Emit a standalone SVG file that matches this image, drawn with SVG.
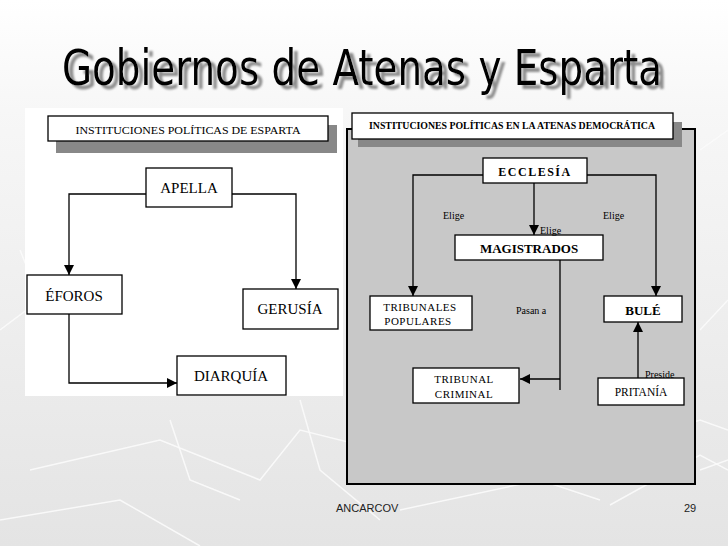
<svg xmlns="http://www.w3.org/2000/svg" width="728" height="546" viewBox="0 0 728 546">
<defs>
<linearGradient id="bg" x1="0" y1="0" x2="0" y2="1">
<stop offset="0" stop-color="#ffffff"/>
<stop offset="0.2" stop-color="#f7f7f7"/>
<stop offset="1" stop-color="#e4e4e4"/>
</linearGradient>
<filter id="tshadow" x="-5%" y="-30%" width="115%" height="170%">
<feOffset in="SourceAlpha" dx="5" dy="4" result="off"/>
<feGaussianBlur in="off" stdDeviation="0.8" result="blur"/>
<feFlood flood-color="#8c8c8c" result="col"/>
<feComposite in="col" in2="blur" operator="in" result="sh"/>
<feMerge><feMergeNode in="sh"/><feMergeNode in="SourceGraphic"/></feMerge>
</filter>
<marker id="ah" viewBox="0 0 10 10" refX="10" refY="5" markerWidth="10" markerHeight="10" markerUnits="userSpaceOnUse" orient="auto">
<path d="M0,0 L10,5 L0,10 Z" fill="#000"/>
</marker>
<style>
.box{fill:#fff;stroke:#000;stroke-width:1.3}
.shadow{fill:#888}
.ln{fill:none;stroke:#000;stroke-width:1.3}
.t{font-family:"Liberation Serif","DejaVu Serif",serif;fill:#000;text-anchor:middle}
.lab{font-family:"Liberation Serif","DejaVu Serif",serif;fill:#000;font-size:10px}
.bgl{fill:none;stroke:#fbfbfb;stroke-width:1.5;opacity:0.9}
</style>
</defs>
<rect x="0" y="0" width="728" height="546" fill="url(#bg)"/>
<g id="background-lines">
<polyline class="bgl" points="0,330 40,300 20,250"/>
<polyline class="bgl" points="30,470 160,440 260,480 300,430 420,460"/>
<polyline class="bgl" points="0,520 120,500 200,546"/>
<polyline class="bgl" points="170,420 190,480 240,500"/>
<polyline class="bgl" points="300,400 320,470 380,520"/>
<polyline class="bgl" points="640,440 700,420 728,430"/>
<polyline class="bgl" points="700,470 728,460"/>
<polyline class="bgl" points="610,505 700,455 728,470"/>
<polyline class="bgl" points="400,510 540,480 600,500"/>
<polyline class="bgl" points="700,150 728,130"/>
<polyline class="bgl" points="700,330 728,300"/>
</g>
<g id="title" filter="url(#tshadow)">
<text transform="translate(62,85) scale(0.8,1)" x="0" y="0" font-family="'DejaVu Sans','Liberation Sans',sans-serif" font-size="49" fill="#000" textLength="750" lengthAdjust="spacingAndGlyphs">Gobiernos de Atenas y Esparta</text>
</g>
<rect id="esparta-panel" x="25" y="108" width="318" height="288" fill="#ffffff"/>
<g id="atenas-panel">
<rect x="347" y="129" width="348" height="355" fill="#c8c8c8" stroke="#000" stroke-width="2"/>
</g>
<g id="esparta-title">
<rect class="shadow" x="56" y="125" width="281" height="28"/>
<rect class="box" x="48" y="116" width="280" height="25"/>
<text class="t" x="188" y="134" font-size="11" textLength="225" lengthAdjust="spacingAndGlyphs">INSTITUCIONES POLÍTICAS DE ESPARTA</text>
</g>
<g id="atenas-title">
<rect class="shadow" x="358" y="122" width="324" height="25"/>
<rect class="box" x="352" y="113" width="321" height="26"/>
<text class="t" x="512" y="129" font-size="9.5" font-weight="bold" textLength="286" lengthAdjust="spacingAndGlyphs">INSTITUCIONES POLÍTICAS EN LA ATENAS DEMOCRÁTICA</text>
</g>
<g id="connectors">
<polyline class="ln" points="146,194 69,194 69,275" marker-end="url(#ah)"/>
<polyline class="ln" points="232,194 296,194 296,289" marker-end="url(#ah)"/>
<polyline class="ln" points="69,314 69,383 177,383" marker-end="url(#ah)"/>
<polyline class="ln" points="483,175 413,175 413,296" marker-end="url(#ah)"/>
<polyline class="ln" points="587,175 656,175 656,296" marker-end="url(#ah)"/>
<line class="ln" x1="534" y1="183" x2="534" y2="235" marker-end="url(#ah)"/>
<line class="ln" x1="560" y1="260" x2="560" y2="390"/>
<line class="ln" x1="560" y1="379" x2="520" y2="379" marker-end="url(#ah)"/>
<line class="ln" x1="638" y1="378" x2="638" y2="322" marker-end="url(#ah)"/>
</g>
<g id="apella">
<rect class="box" x="146" y="168" width="86" height="39"/>
<text class="t" x="189" y="193" font-size="15">APELLA</text>
</g>
<g id="eforos">
<rect class="box" x="27" y="275" width="95" height="39"/>
<text class="t" x="74" y="301" font-size="15">ÉFOROS</text>
</g>
<g id="gerusia">
<rect class="box" x="243" y="289" width="95" height="40"/>
<text class="t" x="290" y="314" font-size="15">GERUSÍA</text>
</g>
<g id="diarquia">
<rect class="box" x="177" y="356" width="109" height="39"/>
<text class="t" x="231" y="381" font-size="15">DIARQUÍA</text>
</g>
<g id="ecclesia">
<rect class="box" x="483" y="158" width="104" height="25"/>
<text class="t" x="535" y="176" font-size="12" font-weight="bold" letter-spacing="1.5">ECCLESÍA</text>
</g>
<g id="magistrados">
<rect class="box" x="455" y="235" width="148" height="25"/>
<text class="t" x="529" y="253" font-size="13" font-weight="bold">MAGISTRADOS</text>
</g>
<g id="tribunales-populares">
<rect class="box" x="370" y="296" width="102" height="34"/>
<text class="t" x="420" y="311" font-size="11" letter-spacing="0.5">TRIBUNALES</text>
<text class="t" x="418" y="325" font-size="11" letter-spacing="0.5">POPULARES</text>
</g>
<g id="bule">
<rect class="box" x="604" y="296" width="78" height="26"/>
<text class="t" x="643" y="315" font-size="13" font-weight="bold">BULÉ</text>
</g>
<g id="tribunal-criminal">
<rect class="box" x="413" y="368" width="106" height="35"/>
<text class="t" x="464" y="383" font-size="11" letter-spacing="0.5">TRIBUNAL</text>
<text class="t" x="464" y="398" font-size="11" letter-spacing="0.5">CRIMINAL</text>
</g>
<g id="pritania">
<rect class="box" x="598" y="378" width="86" height="27"/>
<text class="t" x="641" y="396" font-size="11.5">PRITANÍA</text>
</g>
<g id="labels">
<text class="lab" x="443" y="219">Elige</text>
<text class="lab" x="603" y="219">Elige</text>
<text class="lab" x="540" y="234">Elige</text>
<text class="lab" x="516" y="314">Pasan a</text>
<text class="lab" x="645" y="378">Preside</text>
</g>
<g id="footer">
<text x="336" y="512" font-family="'Liberation Sans',Arial,sans-serif" font-size="11" fill="#222">ANCARCOV</text>
<text x="684" y="512" font-family="'Liberation Sans',Arial,sans-serif" font-size="11" fill="#222">29</text>
</g>
</svg>
